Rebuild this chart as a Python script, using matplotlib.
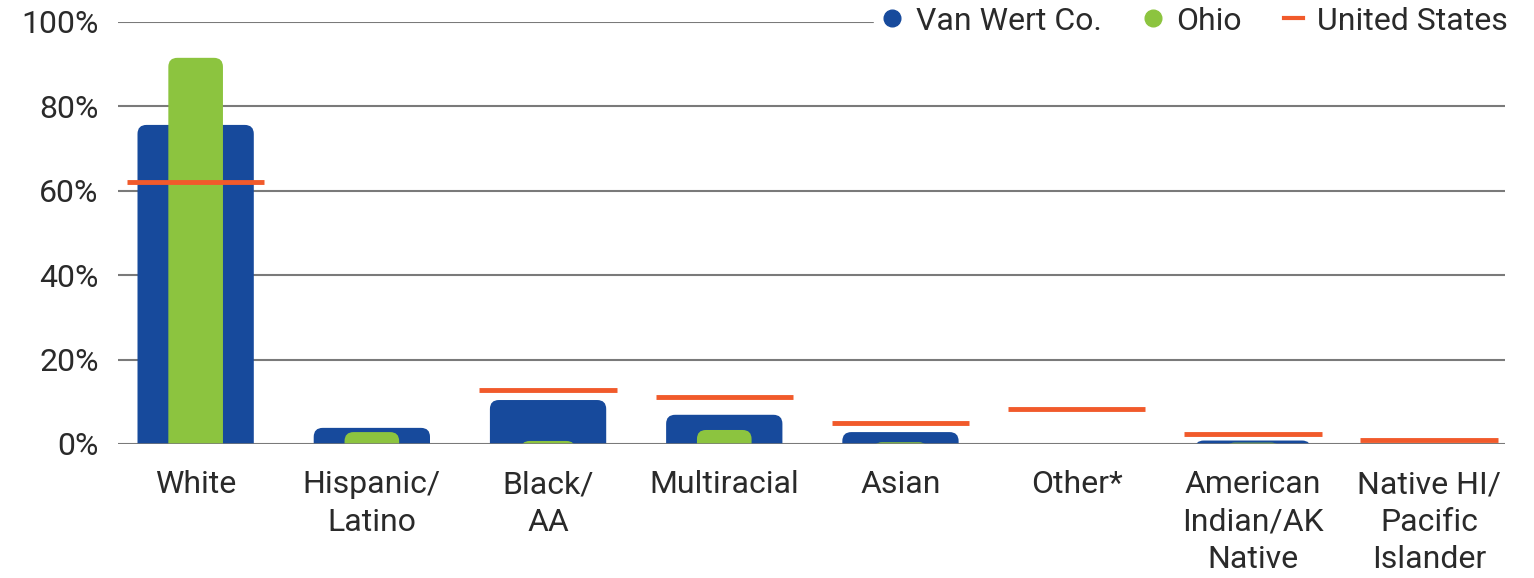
import matplotlib
matplotlib.use("Agg")
import matplotlib.pyplot as plt
from matplotlib.lines import Line2D
from matplotlib.patches import FancyBboxPatch
import numpy as np

# Data for the chart
categories = ["White", "Hispanic/\nLatino", "Black/\nAA", "Multiracial", "Asian",
              "Other*", "American\nIndian/AK\nNative", "Native HI/\nPacific\nIslander"]
van_wert = [75.6, 3.8, 10.4, 6.9, 2.8, 0.0, 0.8, 0.0]
ohio = [91.5, 2.8, 0.7, 3.3, 0.4, 0.0, 0.3, 0.0]
united_states = [62.1, np.nan, 12.8, 11.1, 5.0, 8.3, 2.4, 0.9]
yticks = [0, 20, 40, 60, 80, 100]

blue = "#174a9c"
green = "#8cc43f"
orange = "#f15a2b"
text_color = "#2a2a2a"

plt.rcParams['font.family'] = ['Roboto', 'DejaVu Sans']

fig = plt.figure(figsize=(15.34, 5.78), dpi=100)
ax = fig.add_axes([0.077, 0.232, 0.904, 0.73])

x = np.arange(len(categories))
blue_bars = ax.bar(x, van_wert, width=0.66, color=blue, zorder=3)
green_bars = ax.bar(x, ohio, width=0.31, color=green, zorder=4)
ax.hlines(united_states, x - 0.39, x + 0.39, color=orange, linewidth=3.5, zorder=5)

ax.set_xlim(-0.44, 7.43)
ax.set_ylim(0, 100)

# rounded tops: swap each bar for a rounded box of the same size
px_x = ax.get_window_extent().width / (7.43 + 0.44)
px_y = ax.get_window_extent().height / 100
r = 9 / px_x
for bars, color, z in [(blue_bars, blue, 3), (green_bars, green, 4)]:
    for b in bars:
        h = b.get_height()
        if h <= 0:
            continue
        b.set_visible(False)
        box = FancyBboxPatch((b.get_x(), -3), b.get_width(), h + 3,
                             boxstyle=f"round,pad=0,rounding_size={r}",
                             mutation_aspect=px_x / px_y,
                             facecolor=color, edgecolor='none', zorder=z)
        ax.add_patch(box)

ax.set_yticks(yticks)
ax.set_yticklabels([f"{v}%" for v in yticks], fontsize=23, color=text_color)
ax.set_xticks(x)
ax.set_xticklabels(categories, fontsize=23, color=text_color, linespacing=1.36)
ax.tick_params(length=0)
ax.tick_params(axis='x', pad=19)
ax.tick_params(axis='y', pad=14)
ax.grid(axis='y', color="#7a7a7a", linewidth=1.5, zorder=1)
ax.axhline(0, color="#7a7a7a", linewidth=1.8, zorder=6)
for s in ax.spines.values():
    s.set_visible(False)

handles = [
    Line2D([], [], marker='o', linestyle='none', color=blue, markersize=12),
    Line2D([], [], marker='o', linestyle='none', color=green, markersize=12),
    Line2D([], [], color=orange, linewidth=3),
]
leg = ax.legend(handles, ["Van Wert Co.", "Ohio", "United States"], ncol=3,
                loc='center right', bbox_to_anchor=(1516 / 1534, 1 - 21 / 578),
                bbox_transform=fig.transFigure, frameon=True,
                fontsize=23, handlelength=0.6, handletextpad=0.45, columnspacing=1.3,
                borderpad=0.25, borderaxespad=0)
leg.get_frame().set_facecolor('white')
leg.get_frame().set_edgecolor('white')
leg.get_frame().set_alpha(1)
leg.set_zorder(10)
for t in leg.get_texts():
    t.set_color(text_color)

fig.savefig("out.png", dpi=100, facecolor="white")
